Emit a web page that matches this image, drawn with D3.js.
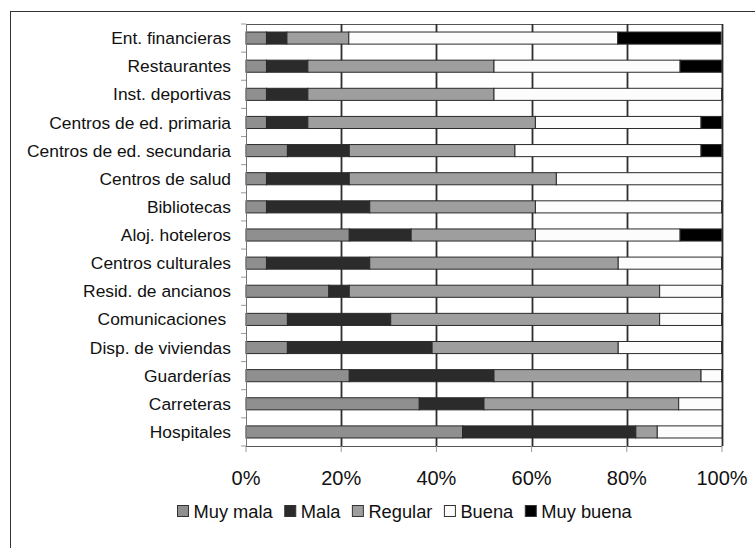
<!DOCTYPE html>
<html>
<head>
<meta charset="utf-8">
<script src="https://cdn.jsdelivr.net/npm/d3@7"></script>
<style>
  html, body { margin: 0; padding: 0; background: #fff; }
  svg { display: block; font-family: "Liberation Sans", Arial, sans-serif; }
  svg text { white-space: pre; }
</style>
</head>
<body>
<svg id="chart" width="755" height="548"></svg>
<script>
// Categories (top to bottom)
const categories = [
  "Ent. financieras", "Restaurantes", "Inst. deportivas", "Centros de ed. primaria",
  "Centros de ed. secundaria", "Centros de salud", "Bibliotecas", "Aloj. hoteleros",
  "Centros culturales", "Resid. de ancianos", "Comunicaciones ", "Disp. de viviendas",
  "Guarderías", "Carreteras", "Hospitales"
];
// Series values (%)
const muyMala  = [4.3, 4.3, 4.3, 4.3, 8.7, 4.3, 4.3, 21.7, 4.3, 17.4, 8.7, 8.7, 21.7, 36.4, 45.5];
const mala     = [4.3, 8.7, 8.7, 8.7, 13.0, 17.4, 21.7, 13.0, 21.7, 4.3, 21.7, 30.4, 30.4, 13.6, 36.4];
const regular  = [13.0, 39.1, 39.1, 47.8, 34.8, 43.5, 34.8, 26.1, 52.2, 65.2, 56.5, 39.1, 43.5, 40.9, 4.5];
const buena    = [56.5, 39.1, 47.8, 34.8, 39.1, 34.8, 39.1, 30.4, 21.7, 13.0, 13.0, 21.7, 4.3, 9.1, 13.6];
const muyBuena = [21.7, 8.7, 0, 4.3, 4.3, 0, 0, 8.7, 0, 0, 0, 0, 0, 0, 0];
const seriesNames = ["Muy mala", "Mala", "Regular", "Buena", "Muy buena"];
const seriesColors = ["#8f8f8f", "#2b2b2b", "#9e9e9e", "#fcfcfc", "#000000"];
const xTicks = [0, 20, 40, 60, 80, 100];

(function () {
const seriesValues = [muyMala, mala, regular, buena, muyBuena];
const rows = categories.map((c, i) => {
  const r = { cat: c };
  seriesNames.forEach((s, j) => r[s] = seriesValues[j][i]);
  return r;
});

const svg = d3.select("#chart");
const pLeft = 246, pRight = 722, pTop = 24, pBottom = 446;

// outer frame
svg.append("rect").attr("x", 10.5).attr("y", 11.5).attr("width", 800).attr("height", 600)
  .attr("fill", "none").attr("stroke", "#333").attr("stroke-width", 1);

const x = d3.scaleLinear().domain([0, 100]).range([pLeft, pRight]);
const y = d3.scaleBand().domain(categories).range([pTop, pBottom]).paddingInner(0.57).paddingOuter(0.285);

// plot area top border
svg.append("line").attr("x1", pLeft).attr("x2", pRight).attr("y1", pTop + 0.5).attr("y2", pTop + 0.5)
  .attr("stroke", "#555").attr("stroke-width", 1);

// vertical gridlines
svg.append("g").selectAll("line").data(xTicks.slice(1)).join("line")
  .attr("x1", d => Math.round(x(d)) + 0.5).attr("x2", d => Math.round(x(d)) + 0.5)
  .attr("y1", pTop).attr("y2", pBottom)
  .attr("stroke", "#2e2e2e").attr("stroke-width", 1.8);

// bars
const stack = d3.stack().keys(seriesNames)(rows);
const colorScale = d3.scaleOrdinal().domain(seriesNames).range(seriesColors);
svg.append("g").selectAll("g").data(stack).join("g")
  .attr("fill", d => colorScale(d.key))
  .selectAll("rect").data(d => d.filter(v => v[1] - v[0] > 0)).join("rect")
  .attr("x", d => x(d[0]))
  .attr("width", d => x(d[1]) - x(d[0]))
  .attr("y", d => y(d.data.cat))
  .attr("height", y.bandwidth())
  .attr("stroke", "#2a2a2a").attr("stroke-width", 1);

// left axis (ticks at band boundaries)
const boundaries = d3.range(categories.length + 1).map(i => pTop + i * (pBottom - pTop) / categories.length);
const gy = svg.append("g");
gy.append("line").attr("x1", pLeft + 0.5).attr("x2", pLeft + 0.5).attr("y1", pTop).attr("y2", pBottom)
  .attr("stroke", "#777").attr("stroke-width", 1);
gy.selectAll("line.tick").data(boundaries).join("line").attr("class", "tick")
  .attr("x1", pLeft - 5).attr("x2", pLeft).attr("y1", d => d).attr("y2", d => d)
  .attr("stroke", "#999").attr("stroke-width", 1);
gy.selectAll("text").data(categories).join("text")
  .attr("x", 231).attr("y", d => y(d) + y.bandwidth() / 2)
  .attr("dy", "0.35em").attr("text-anchor", "end")
  .attr("font-size", 17.4).attr("fill", "#111")
  .text(d => d);

// bottom axis
const gx = svg.append("g");
gx.append("line").attr("x1", pLeft).attr("x2", pRight).attr("y1", pBottom + 0.5).attr("y2", pBottom + 0.5)
  .attr("stroke", "#555").attr("stroke-width", 1);
gx.selectAll("line.tick").data(xTicks).join("line").attr("class", "tick")
  .attr("x1", d => x(d)).attr("x2", d => x(d)).attr("y1", pBottom).attr("y2", pBottom + 6)
  .attr("stroke", "#999").attr("stroke-width", 1);
gx.selectAll("text").data(xTicks).join("text")
  .attr("x", d => x(d)).attr("y", 485)
  .attr("text-anchor", "middle").attr("font-size", 20).attr("fill", "#111")
  .text(d => d + "%");

// legend
const lg = svg.append("g");
let cx = 177;
seriesNames.forEach((s, i) => {
  lg.append("rect").attr("x", cx + 0.5).attr("y", 505.5).attr("width", 11).attr("height", 11)
    .attr("fill", seriesColors[i]).attr("stroke", "#333").attr("stroke-width", 1);
  const t = lg.append("text").attr("x", cx + 16.5).attr("y", 517.5)
    .attr("font-size", 18.3).attr("fill", "#111").text(s);
  cx = cx + 16.5 + t.node().getComputedTextLength() + 11.5;
});
})();
</script>
</body>
</html>
